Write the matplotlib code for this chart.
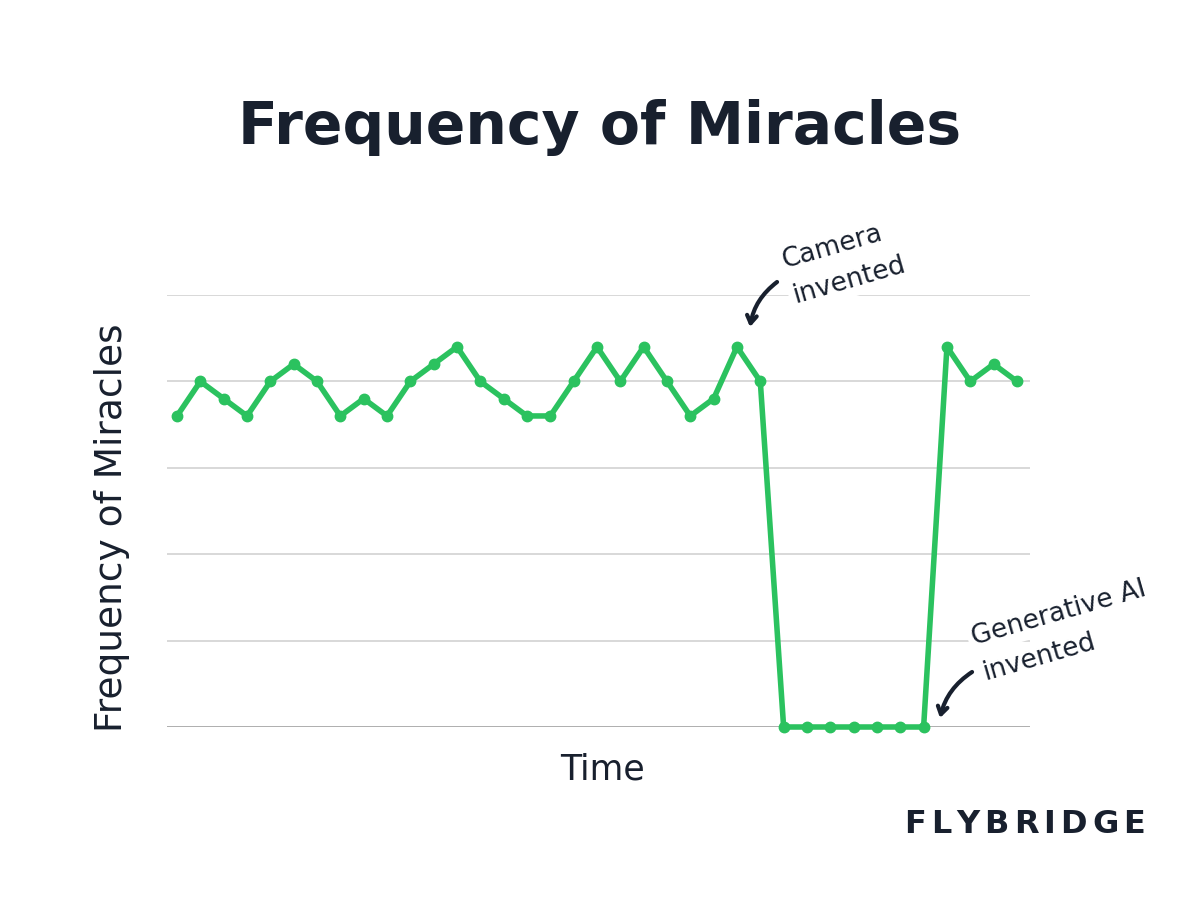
import matplotlib
matplotlib.use("Agg")
import matplotlib.pyplot as plt
import numpy as np

# --- DATA ---
values = [3.6, 4.0, 3.8, 3.6, 4.0, 4.2, 4.0, 3.6, 3.8, 3.6,
          4.0, 4.2, 4.4, 4.0, 3.8, 3.6, 3.6, 4.0, 4.4, 4.0,
          4.4, 4.0, 3.6, 3.8, 4.4, 4.0, 0.0, 0.0, 0.0, 0.0,
          0.0, 0.0, 0.0, 4.4, 4.0, 4.2, 4.0]
grid_levels = [1, 2, 3, 4, 5]
title = "Frequency of Miracles"
y_label = "Frequency of Miracles"
x_label = "Time"
brand = "FLYBRIDGE"

GREEN = '#2bc25f'
NAVY = '#18202e'
FONT = 'DejaVu Sans'
W, H = 1200, 900

fig = plt.figure(figsize=(12, 9), dpi=100, facecolor='white')
ax = fig.add_axes([167 / W, 1 - 727 / H, (1030 - 167) / W, (727 - 295) / H])
ax.set_xlim(-0.43, len(values) - 1 + 0.56)
ax.set_ylim(0, 5)
for s in ax.spines.values():
    s.set_visible(False)
ax.set_xticks([]); ax.set_yticks([])

for g in grid_levels:
    ax.axhline(g, color='#d6d6d6', lw=1.3, zorder=1)
ax.axhline(0, color='#a8a8a8', lw=1.3, zorder=1)

x = np.arange(len(values))
ax.plot(x, values, color=GREEN, lw=4, marker='o', markersize=7.5,
        zorder=3, clip_on=False, solid_joinstyle='round')

def px(xp, yp):
    return xp / W, 1 - yp / H

# titles
fig.text(*px(600, 128), title, ha='center', va='center', fontsize=42,
         fontweight='bold', color=NAVY, family=FONT)
fig.text(*px(112, 528), y_label, ha='center', va='center', rotation=90,
         fontsize=27, color=NAVY, family=FONT)
fig.text(*px(603, 770), x_label, ha='center', va='center',
         fontsize=25, color=NAVY, family=FONT)

# annotations
def note(lines, starts, angle=16):
    for txt, (xs, ys) in zip(lines, starts):
        fig.text(*px(xs, ys), txt, ha='left', va='baseline', rotation=angle,
                 rotation_mode='anchor', fontsize=19, color=NAVY, family=FONT,
                 zorder=5, bbox=dict(facecolor='white', edgecolor='none', pad=3))

note(["Camera", "invented"], [(784, 268), (795, 303)])
note(["Generative AI", "invented"], [(974, 645), (986, 680)])

def to_data(xp, yp):
    return (xp - 177) / 23.33, (727 - yp) / 86.4

arrow = dict(arrowstyle='->, head_length=0.55, head_width=0.35', lw=3,
             color=NAVY, connectionstyle='arc3,rad=0.2', shrinkA=0, shrinkB=0)
ax.annotate('', xy=to_data(750, 327), xytext=to_data(777, 282),
            arrowprops=arrow, annotation_clip=False, zorder=6)
ax.annotate('', xy=to_data(940, 718), xytext=to_data(972, 672),
            arrowprops=arrow, annotation_clip=False, zorder=6)

# brand with letter spacing
renderer = fig.canvas.get_renderer()
letters = []
cur = 0.0
track = 5.0
for ch in brand:
    t = fig.text(0, 0, ch, ha='left', va='baseline', fontsize=23,
                 fontweight='bold', color=NAVY, family=FONT)
    w = t.get_window_extent(renderer).width
    letters.append((t, cur))
    cur += w + track
total = cur - track
x0 = 1145 - total
for t, off in letters:
    t.set_position(px(x0 + off, 833))

fig.savefig('out.png', dpi=100, facecolor='white')
